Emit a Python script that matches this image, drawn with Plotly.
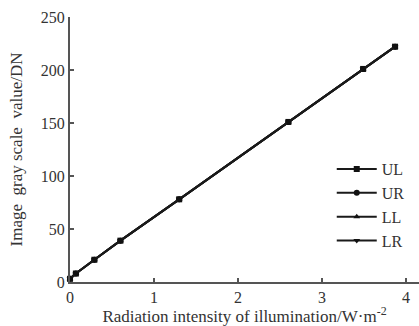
import plotly.graph_objects as go

# Data
radiation = [0.0, 0.07, 0.29, 0.60, 1.30, 2.60, 3.49, 3.87]
gray_UL = [3, 8, 21, 39, 78, 151, 201, 222]
gray_UR = [3, 8, 21, 39, 78, 151, 201, 222]
gray_LL = [3, 8, 21, 39, 78, 151, 201, 222]
gray_LR = [3, 8, 21, 39, 78, 151, 201, 222]
series_names = ["UL", "UR", "LL", "LR"]
symbols = ["square", "circle", "triangle-up", "triangle-down"]
x_ticks = [0, 1, 2, 3, 4]
y_ticks = [0, 50, 100, 150, 200, 250]

font_family = "Liberation Serif, Times New Roman, serif"

fig = go.Figure()
for name, vals, sym in zip(series_names, [gray_UL, gray_UR, gray_LL, gray_LR], symbols):
    fig.add_trace(go.Scatter(
        x=radiation, y=vals, name=name, mode="lines+markers",
        line=dict(color="#1a1a1a", width=2),
        marker=dict(symbol=sym, size=6, color="#111111"),
        cliponaxis=False,
    ))

axis_common = dict(
    showline=True, linecolor="#555555", linewidth=2,
    ticks="inside", ticklen=4, tickwidth=1.5, tickcolor="#555555",
    showgrid=False, zeroline=False, mirror=False,
    tickfont=dict(family=font_family, size=16, color="#333333"),
)

fig.update_layout(
    width=419, height=326,
    margin=dict(l=70, r=0, t=17, b=44),
    paper_bgcolor="white", plot_bgcolor="white",
    font=dict(family=font_family, size=16, color="#333333"),
    showlegend=True,
    legend=dict(
        x=0.75, y=0.49, xanchor="left", yanchor="top",
        bgcolor="rgba(0,0,0,0)", borderwidth=0,
        font=dict(family=font_family, size=16, color="#333333"),
        itemwidth=40, tracegroupgap=0,
    ),
    xaxis=dict(range=[0, 4.155], tickvals=x_ticks, **axis_common,
               title=dict(text="Radiation intensity of illumination/W·m<sup>-2</sup>",
                          font=dict(family=font_family, size=17, color="#333333"),
                          standoff=2)),
    yaxis=dict(range=[0, 250], tickvals=y_ticks, **axis_common,
               title=dict(text="Image  gray scale  value/DN",
                          font=dict(family=font_family, size=17, color="#333333"),
                          standoff=14)),
)

fig.write_html("out.html")
